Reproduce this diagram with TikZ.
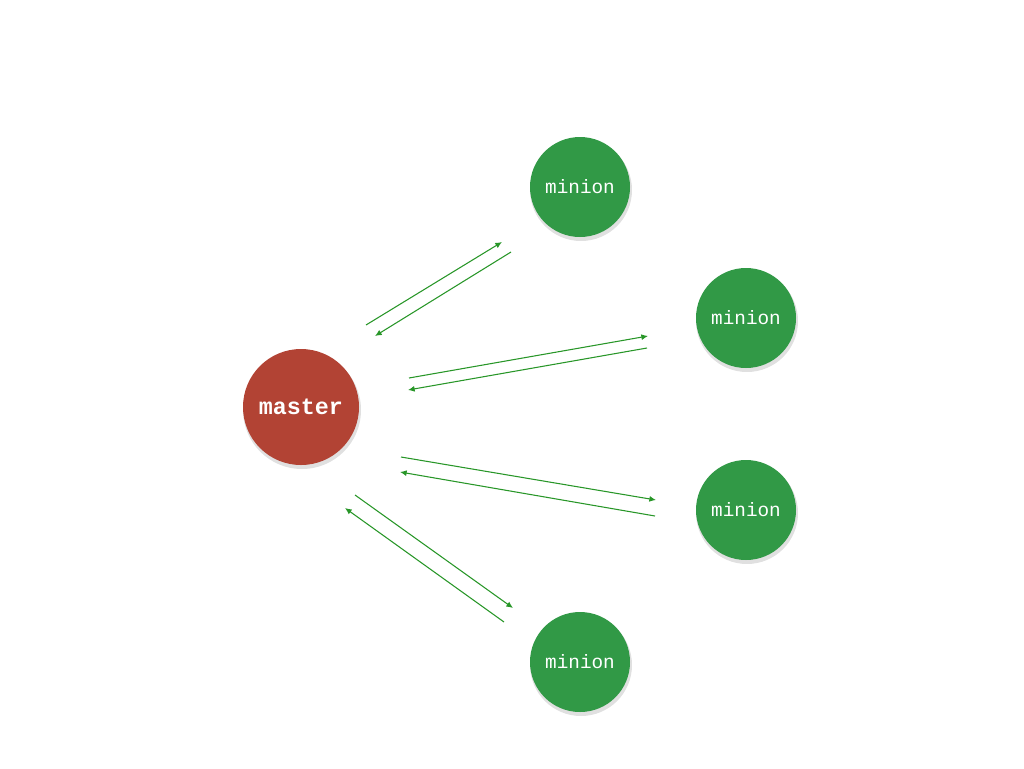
\documentclass[tikz,border=0pt]{standalone}
\usepackage{fontspec}
\setmonofont{Liberation Mono}
\usetikzlibrary{arrows.meta}
\definecolor{masterred}{RGB}{178,67,52}
\definecolor{miniongreen}{RGB}{49,153,70}
\definecolor{arrowgreen}{RGB}{40,150,40}
\tikzset{
  disc/.style={circle, inner sep=0pt, text=white, font=\ttfamily},
  masterdisc/.style={disc, fill=masterred, minimum size=87pt, font=\ttfamily\bfseries\fontsize{17.5}{20}\selectfont},
  miniondisc/.style={disc, fill=miniongreen, minimum size=75pt, font=\ttfamily\fontsize{14.5}{17}\selectfont},
  discshadow/.style={fill=black, opacity=0.12},
  flow/.style={draw=arrowgreen, line width=0.8pt, -{Latex[length=5pt,width=4.5pt]}}
}
\begin{document}
\begin{tikzpicture}[x=0.75pt,y=-0.75pt]
\useasboundingbox (0,0) rectangle (1024,768);
% shadows
\fill[discshadow] (302,410) circle (59);
\foreach \p in {(581,190),(747,321),(747,513),(581,665)}
  \fill[discshadow] \p circle (51);
\node[masterdisc] (master) at (301,407) {master};
\node[miniondisc] (m1) at (580,187) {minion};
\node[miniondisc] (m2) at (746,318) {minion};
\node[miniondisc] (m3) at (746,510) {minion};
\node[miniondisc] (m4) at (580,662) {minion};
% arrow end points
\coordinate (a1s) at (366,325); \coordinate (a1e) at (502,242);
\coordinate (b1s) at (511,252); \coordinate (b1e) at (375,336);
\coordinate (a2s) at (409,378); \coordinate (a2e) at (648,336);
\coordinate (b2s) at (647,348); \coordinate (b2e) at (408,390);
\coordinate (a3s) at (401,457); \coordinate (a3e) at (656,500);
\coordinate (b3s) at (655,516); \coordinate (b3e) at (400,472);
\coordinate (a4s) at (355,495); \coordinate (a4e) at (513,608);
\coordinate (b4s) at (504,622); \coordinate (b4e) at (345,508);
\draw[flow] (a1s) -- (a1e);
\draw[flow] (b1s) -- (b1e);
\draw[flow] (a2s) -- (a2e);
\draw[flow] (b2s) -- (b2e);
\draw[flow] (a3s) -- (a3e);
\draw[flow] (b3s) -- (b3e);
\draw[flow] (a4s) -- (a4e);
\draw[flow] (b4s) -- (b4e);
\end{tikzpicture}
\end{document}
